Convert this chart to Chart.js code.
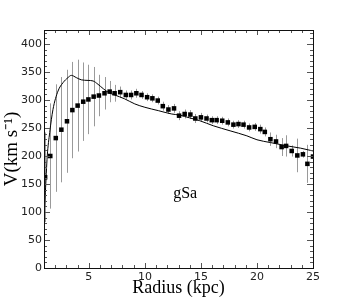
<!DOCTYPE html>
<html>
<head>
<meta charset="utf-8">
<script src="https://cdn.jsdelivr.net/npm/chart.js@4.4.1/dist/chart.umd.min.js"></script>
<style>
  html, body { margin: 0; padding: 0; background: #fff; }
  #wrap { width: 349px; height: 299px; }
</style>
</head>
<body>
<div id="wrap"><canvas id="rc"></canvas></div>
<script>
// observed rotation curve (kpc, km/s)
const radii = [1.1, 1.56, 2.05, 2.55, 3.05, 3.53, 4.0, 4.5, 4.96, 5.43, 5.9, 6.4, 6.86, 7.3, 7.8, 8.3, 8.77, 9.24, 9.7, 10.2,
  10.67, 11.15, 11.6, 12.1, 12.6, 13.05, 13.55, 14.06, 14.5, 15.0, 15.5, 15.97, 16.4, 16.9, 17.4, 17.9, 18.35, 18.8, 19.3, 19.8,
  20.3, 20.7, 21.2, 21.7, 22.2, 22.6, 23.1, 23.6, 24.1, 24.5, 25.0];
const vObs = [162, 200, 232, 247, 262, 282, 290, 297, 301, 306, 308, 312, 315, 312, 314, 309, 309, 312, 309, 305,
  303, 299, 289, 283, 285, 272, 275, 274, 267, 269, 267, 264, 264, 263, 260, 256, 257, 256, 251, 252,
  248, 243, 230, 226, 216, 218, 209, 201, 203, 186, 199];
const vErr = [80, 94, 96, 94, 92, 86, 82, 70, 62, 53, 37, 29, 19, 15, 10, 8, 8, 8, 7, 7,
  7, 7, 8, 8, 8, 8, 8, 8, 8, 8, 7, 7, 7, 7, 7, 7, 7, 7, 7, 7,
  8, 8, 12, 12, 16, 19, 10, 30, 6, 34, 6];

// model curve
const modelR = [1.0, 1.12, 1.29, 1.51, 1.8, 2.25, 2.7, 3.14, 3.44, 3.88, 4.33, 4.93, 5.38, 5.82, 6.3, 6.8, 7.3, 8.2, 9.1, 10.0,
  11.2, 12.4, 13.1, 14.0, 14.9, 16.1, 17.6, 19.1, 20.0, 21.2, 22.7, 23.9, 25.0];
const modelV = [93, 135, 200, 242, 283, 316, 331, 340, 344, 340, 336, 335, 334, 328, 320, 313, 309, 302, 293, 287,
  281, 275, 273, 268, 263, 254, 245, 236, 229, 224, 218, 214, 209];

const xTicks = [5, 10, 15, 20, 25];
const yTicks = [0, 50, 100, 150, 200, 250, 300, 350, 400];
const label = 'gSa';

const obsPoints = radii.map((r, i) => ({ x: r, y: vObs[i] }));
const modelPoints = modelR.map((r, i) => ({ x: r, y: modelV[i] }));

const errorBars = {
  id: 'errorBars',
  beforeDatasetsDraw(chart) {
    const { ctx, scales: { x, y } } = chart;
    ctx.save();
    ctx.strokeStyle = '#9a9a9a';
    ctx.lineWidth = 1;
    ctx.beginPath();
    radii.forEach((r, i) => {
      const px = Math.round(x.getPixelForValue(r)) + 0.5;
      ctx.moveTo(px, y.getPixelForValue(vObs[i] - vErr[i]));
      ctx.lineTo(px, y.getPixelForValue(vObs[i] + vErr[i]));
    });
    ctx.stroke();
    ctx.restore();
  }
};

const frame = {
  id: 'frame',
  afterDraw(chart) {
    const { ctx, chartArea: a, scales: { x, y } } = chart;
    ctx.save();
    ctx.strokeStyle = '#555';
    ctx.lineWidth = 1;
    ctx.beginPath();
    for (let v = 1; v <= 25; v++) {
      const px = Math.round(x.getPixelForValue(v)) + 0.5;
      const len = v % 5 === 0 ? 5 : 3;
      ctx.moveTo(px, a.bottom); ctx.lineTo(px, a.bottom - len);
      ctx.moveTo(px, a.top); ctx.lineTo(px, a.top + len);
    }
    for (let v = 0; v <= 420; v += 10) {
      const py = Math.round(y.getPixelForValue(v)) + 0.5;
      const len = v % 50 === 0 ? 6 : 3;
      ctx.moveTo(a.left, py); ctx.lineTo(a.left + len, py);
      ctx.moveTo(a.right, py); ctx.lineTo(a.right - len, py);
    }
    ctx.stroke();
    ctx.strokeStyle = '#111';
    ctx.strokeRect(Math.round(a.left) + 0.5, Math.round(a.top) + 0.5,
      Math.round(a.right - a.left), Math.round(a.bottom - a.top));
    ctx.fillStyle = '#000';
    ctx.font = '16px "Liberation Serif"';
    ctx.textAlign = 'center';
    ctx.textBaseline = 'middle';
    ctx.fillText(label, x.getPixelForValue(13.6), y.getPixelForValue(132));
    ctx.restore();
  }
};

new Chart(document.getElementById('rc'), {
  type: 'scatter',
  data: {
    datasets: [
      {
        label: 'model',
        data: modelPoints,
        showLine: true,
        borderColor: '#000',
        borderWidth: 1,
        pointRadius: 0,
        cubicInterpolationMode: 'monotone'
      },
      {
        label: 'observed',
        data: obsPoints,
        pointStyle: 'rect',
        pointRadius: 3.2,
        backgroundColor: '#000',
        borderColor: '#000',
        borderWidth: 0
      }
    ]
  },
  options: {
    responsive: true,
    maintainAspectRatio: false,
    animation: false,
    events: [],
    layout: { padding: { left: 0, right: 36, top: 30, bottom: 0 } },
    plugins: { legend: { display: false }, tooltip: { enabled: false } },
    scales: {
      x: {
        type: 'linear',
        min: 1,
        max: 25,
        afterBuildTicks: s => { s.ticks = xTicks.map(v => ({ value: v })); },
        afterFit: s => { s.height = 31; },
        grid: { display: false, drawTicks: false, tickLength: 0 },
        border: { display: false },
        ticks: { color: '#222', font: { family: 'DejaVu Sans', size: 11 }, padding: 3, maxRotation: 0 },
        title: { display: true, text: 'Radius (kpc)', color: '#000', font: { family: 'Liberation Serif', size: 18 }, padding: { top: 0, bottom: 0 } }
      },
      y: {
        type: 'linear',
        min: 0,
        max: 425,
        afterBuildTicks: s => { s.ticks = yTicks.map(v => ({ value: v })); },
        afterFit: s => { s.width = 44; },
        grid: { display: false, drawTicks: false, tickLength: 0 },
        border: { display: false },
        ticks: { color: '#222', font: { family: 'DejaVu Sans', size: 11 }, padding: 2 },
        title: { display: true, text: 'V(km s\u207B\u00B9)', color: '#000', font: { family: 'Liberation Serif', size: 19 }, padding: { top: 1, bottom: 0 } }
      }
    }
  },
  plugins: [errorBars, frame]
});
</script>
</body>
</html>
